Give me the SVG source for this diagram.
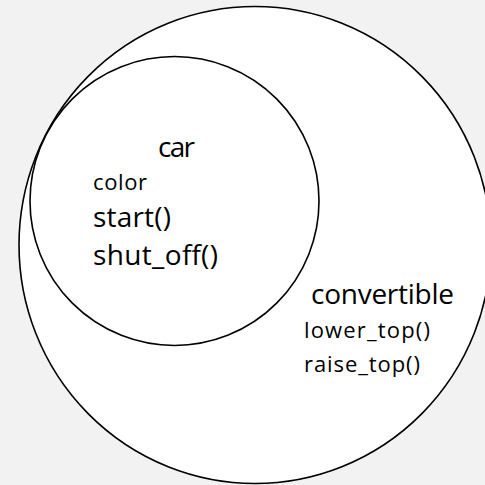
<svg xmlns="http://www.w3.org/2000/svg" width="485" height="485" viewBox="0 0 485 485">
  <style>
    .set { fill: #ffffff; stroke: #000000; stroke-width: 1.6; }
    .lbl { font-family: "Open Sans", "Liberation Sans", sans-serif; fill: #000000; }
    .big { font-size: 28px; }
    .small { font-size: 22px; }
  </style>
  <rect x="0" y="0" width="485" height="485" fill="#f2f2f2"/>
  <!-- outer set: convertible -->
  <g id="convertible">
    <ellipse class="set" cx="255" cy="245" rx="236" ry="238.5"/>
    <text class="lbl big" x="311" y="304" textLength="143" lengthAdjust="spacing">convertible</text>
    <text class="lbl small" x="304" y="338" textLength="126" lengthAdjust="spacing">lower_top()</text>
    <text class="lbl small" x="304" y="372" textLength="116" lengthAdjust="spacing">raise_top()</text>
  </g>
  <!-- inner set: car -->
  <g id="car">
    <circle class="set" cx="174.5" cy="201" r="144.5"/>
    <text class="lbl big" x="158" y="157" textLength="37" lengthAdjust="spacing">car</text>
    <text class="lbl small" x="93" y="190" textLength="54" lengthAdjust="spacing">color</text>
    <text class="lbl big" x="93" y="227" textLength="78" lengthAdjust="spacing">start()</text>
    <text class="lbl big" x="93" y="265" textLength="125" lengthAdjust="spacing">shut_off()</text>
  </g>
</svg>
